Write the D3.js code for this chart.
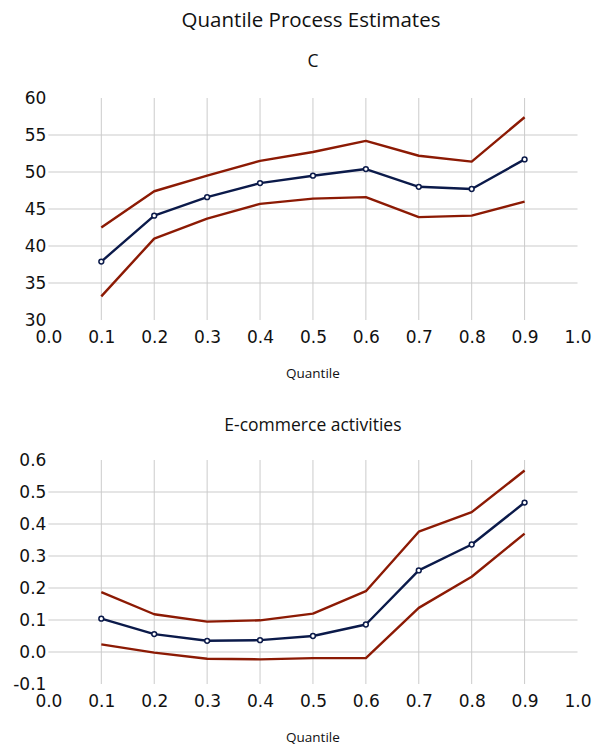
<!DOCTYPE html>
<html>
<head>
<meta charset="utf-8">
<script src="https://cdn.jsdelivr.net/npm/d3@7"></script>
<style>
  body { margin: 0; background: #fff; }
  text { fill: #111; }
</style>
</head>
<body>
<svg id="chart" width="592" height="745"></svg>
<script>
const quantiles = [0.1, 0.2, 0.3, 0.4, 0.5, 0.6, 0.7, 0.8, 0.9];
const xTicks = [0.0, 0.1, 0.2, 0.3, 0.4, 0.5, 0.6, 0.7, 0.8, 0.9, 1.0];

// panel C
const cMid = [37.9, 44.1, 46.6, 48.5, 49.5, 50.4, 48.0, 47.7, 51.7];
const cUpper = [42.5, 47.4, 49.5, 51.5, 52.7, 54.2, 52.2, 51.4, 57.4];
const cLower = [33.2, 41.0, 43.7, 45.7, 46.4, 46.6, 43.9, 44.1, 46.0];
const cTicks = [30, 35, 40, 45, 50, 55, 60];

// panel E-commerce activities
const eMid = [0.104, 0.056, 0.035, 0.037, 0.05, 0.086, 0.255, 0.336, 0.467];
const eUpper = [0.187, 0.118, 0.095, 0.099, 0.12, 0.19, 0.376, 0.437, 0.567];
const eLower = [0.024, -0.002, -0.021, -0.023, -0.019, -0.019, 0.138, 0.235, 0.37];
const eTicks = [-0.1, 0.0, 0.1, 0.2, 0.3, 0.4, 0.5, 0.6];

const svg = d3.select("#chart");
const left = 48.4, right = 577.5;
const navy = "#0b1a4a", red = "#8c1a04";

svg.append("text")
  .attr("x", 311).attr("y", 19)
  .attr("text-anchor", "middle").attr("dominant-baseline", "central")
  .style("font-family", "Open Sans").style("font-size", "20.5px")
  .text("Quantile Process Estimates");

function panel(title, titleY, top, bottom, ticks, fmt, mid, upper, lower) {
  const x = d3.scaleLinear().domain([0, 1]).range([left, right]);
  const y = d3.scaleLinear().domain([ticks[0], ticks[ticks.length - 1]]).range([bottom, top]);
  const g = svg.append("g");

  g.append("text")
    .attr("x", (left + right) / 2).attr("y", titleY)
    .attr("text-anchor", "middle").attr("dominant-baseline", "central")
    .style("font-family", "Open Sans").style("font-size", "17.5px")
    .text(title);

  // gridlines
  g.selectAll(".hgrid").data(ticks.slice(1, -1)).enter().append("line")
    .attr("x1", left).attr("x2", right)
    .attr("y1", d => y(d)).attr("y2", d => y(d))
    .attr("stroke", "#cbcbcb").attr("stroke-width", 1);
  g.selectAll(".vgrid").data(xTicks.slice(1, -1)).enter().append("line")
    .attr("x1", d => x(d)).attr("x2", d => x(d))
    .attr("y1", top).attr("y2", bottom)
    .attr("stroke", "#cbcbcb").attr("stroke-width", 1);

  // axes (labels only)
  const yAxis = g.append("g").attr("transform", `translate(${left},0)`)
    .call(d3.axisLeft(y).tickValues(ticks).tickSize(0).tickPadding(2)
      .tickFormat(d => d3.format(fmt)(d).replace("−", "-")));
  const xAxis = g.append("g").attr("transform", `translate(0,${bottom})`)
    .call(d3.axisBottom(x).tickValues(xTicks).tickSize(0).tickPadding(11).tickFormat(d3.format(".1f")));
  [yAxis, xAxis].forEach(a => {
    a.select(".domain").remove();
    a.attr("font-family", null).attr("font-size", null);
    a.selectAll("text").style("font-family", "DejaVu Sans").style("font-size", "17px").attr("fill", "#111");
  });

  g.append("text")
    .attr("x", (left + right) / 2).attr("y", bottom + 53)
    .attr("text-anchor", "middle").attr("dominant-baseline", "central")
    .style("font-family", "Open Sans").style("font-size", "13.5px")
    .text("Quantile");

  const line = d3.line().x((d, i) => x(quantiles[i])).y(d => y(d));
  [[upper, red], [lower, red], [mid, navy]].forEach(([vals, col]) => {
    g.append("path").datum(vals)
      .attr("d", line).attr("fill", "none")
      .attr("stroke", col).attr("stroke-width", 2.4).attr("stroke-linejoin", "round");
  });
  g.selectAll(".pt").data(mid).enter().append("circle")
    .attr("cx", (d, i) => x(quantiles[i])).attr("cy", d => y(d))
    .attr("r", 2.4).attr("fill", "#fff").attr("stroke", navy).attr("stroke-width", 1.5);
}

panel("C", 60, 98, 320, cTicks, "d", cMid, cUpper, cLower);
panel("E-commerce activities", 424, 460, 684, eTicks, ".1f", eMid, eUpper, eLower);
</script>
</body>
</html>
